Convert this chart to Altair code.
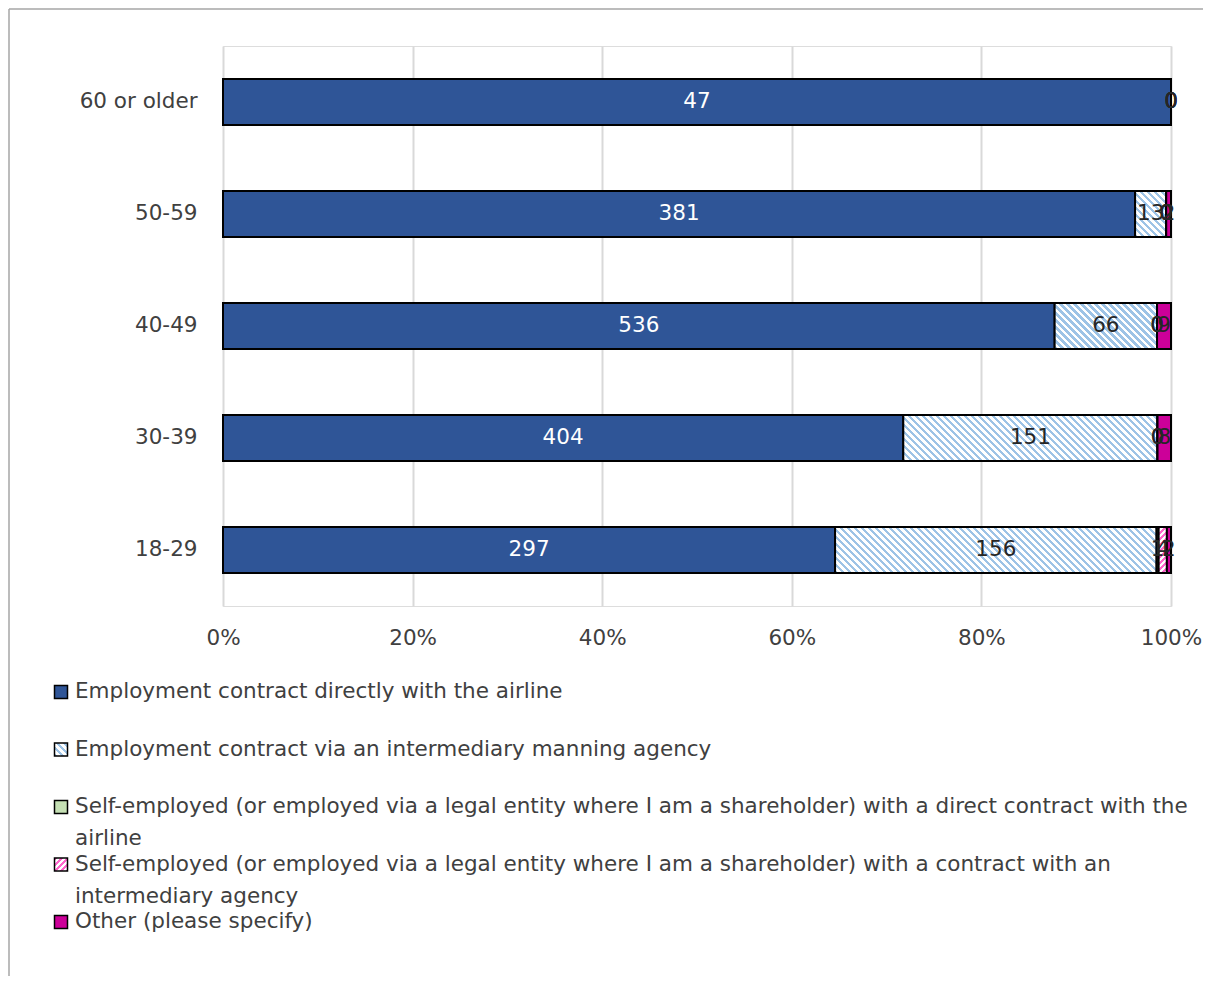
import math
import altair as alt

# ---------------- data ----------------
ages = ["60 or older", "50-59", "40-49", "30-39", "18-29"]
series = [
    "Employment contract directly with the airline",
    "Employment contract via an intermediary manning agency",
    "Self-employed (or employed via a legal entity where I am a shareholder) with a direct contract with the\nairline",
    "Self-employed (or employed via a legal entity where I am a shareholder) with a contract with an\nintermediary agency",
    "Other (please specify)",
]
direct = [47, 381, 536, 404, 297]
agency = [0, 13, 66, 151, 156]
self_direct = [0, 0, 0, 0, 1]
self_agency = [0, 0, 0, 0, 4]
other = [0, 2, 9, 8, 2]
values = [direct, agency, self_direct, self_agency, other]
x_ticks = [0, 0.2, 0.4, 0.6, 0.8, 1.0]

# ---------------- styles ----------------
FONT = "DejaVu Sans"
FS = 21.5
PLOT_W, PLOT_H = 948, 560
BAR_H = 46
DARK_BLUE = "#2F5597"
MAGENTA = "#CC0099"
LIGHT_BLUE = "#9DC3E6"
PINK = "#FF66CC"
TXT = "#404040"


def stripes(W, H, c1, c2, period=7.0, up=False):
    W = max(W, 0.5)
    L = W + H
    d = W * W + H * H
    x2 = L * W / d
    if up:
        x1, y1, y2 = 0, 0, L * H / d
    else:
        x1, y1, y2 = 0, 1, 1 - L * H / d
    stops = []
    n = int(math.ceil(L / period))
    for k in range(n):
        a = min(k * period / L, 1)
        b = min((k + 0.5) * period / L, 1)
        c = min((k + 1) * period / L, 1)
        stops += [{"offset": a, "color": c1}, {"offset": b, "color": c1},
                  {"offset": b, "color": c2}, {"offset": c, "color": c2}]
    return {"gradient": "linear", "x1": x1, "y1": y1, "x2": x2, "y2": y2, "stops": stops}


def fill_for(si, W, H):
    if si == 0:
        return DARK_BLUE
    if si == 1:
        return stripes(W, H, LIGHT_BLUE, "#FFFFFF")
    if si == 2:
        return "#C5E0B4"
    if si == 3:
        return stripes(W, H, PINK, "#FFFFFF", period=6.0, up=True)
    return MAGENTA


rows = []
for ai, age in enumerate(ages):
    total = sum(v[ai] for v in values)
    for si, s in enumerate(series):
        v = values[si][ai]
        W = v / total * PLOT_W
        rows.append({
            "age": age, "series": s, "idx": si, "value": v,
            "fill": fill_for(si, W, BAR_H),
            "tcolor": "#FFFFFF" if si == 0 else "#262626",
        })

legend_rows = []
for si, s in enumerate(series):
    parts = s.split("\n")
    legend_rows.append({
        "series": s, "idx": si,
        "line1": parts[0], "line2": parts[1] if len(parts) > 1 else "",
        "fill": fill_for(si, 13, 13),
    })

data = alt.Data(values=rows)
ldata = alt.Data(values=legend_rows)

stacked = alt.Chart(data).transform_stack(
    stack="value", groupby=["age"], sort=[alt.SortField("idx", order="ascending")],
    as_=["v0", "v1"], offset="normalize",
).transform_calculate(mid="(datum.v0 + datum.v1) / 2")

yscale = alt.Scale(paddingInner=0.59, paddingOuter=0.295)
yenc = alt.Y("age:N", sort=ages, title=None, scale=yscale,
             axis=alt.Axis(domain=False, ticks=False, labelPadding=26,
                           labelFontSize=FS, labelFont=FONT, labelColor=TXT))

bars = stacked.mark_bar(stroke="#000000", strokeWidth=2).encode(
    x=alt.X("v0:Q", scale=alt.Scale(domain=[0, 1]), title=None,
            axis=alt.Axis(values=x_ticks, format="%", domain=False, ticks=False,
                          grid=True, gridColor="#D9D9D9", gridWidth=2, labelFlush=False,
                          labelPadding=21, labelFontSize=FS, labelFont=FONT,
                          labelColor=TXT)),
    x2="v1:Q",
    y=yenc,
    fill=alt.Fill("fill:N", scale=None),
)

labels = stacked.mark_text(font=FONT, fontSize=FS, baseline="middle").encode(
    x="mid:Q",
    y=alt.Y("age:N", sort=ages, scale=yscale, axis=None),
    text="value:Q",
    color=alt.Color("tcolor:N", scale=None),
)

frame = alt.Data(values=[{"a": 1}])
border_top = alt.Chart(frame).mark_rule(stroke="#A6A6A6", strokeWidth=1.5).encode(
    x=alt.value(-214), x2=alt.value(980), y=alt.value(-37))
border_left = alt.Chart(frame).mark_rule(stroke="#A6A6A6", strokeWidth=1.5).encode(
    x=alt.value(-214), y=alt.value(-37), y2=alt.value(930))

ly = alt.Y("series:N", sort=series, axis=None,
           scale=alt.Scale(type="point", range=[646, 876], padding=0))

leg_sym = alt.Chart(ldata).mark_point(shape="square", size=169, filled=True,
                                      stroke="#000000", strokeWidth=1.5, opacity=1).encode(
    x=alt.value(-162), y=ly, fill=alt.Fill("fill:N", scale=None))

leg_t1 = alt.Chart(ldata).mark_text(font=FONT, fontSize=FS, align="left", baseline="middle",
                                    color=TXT).encode(
    x=alt.value(-148), y=ly, text="line1:N")

leg_t2 = alt.Chart(ldata).mark_text(font=FONT, fontSize=FS, align="left", baseline="middle",
                                    color=TXT, dy=32).encode(
    x=alt.value(-148), y=ly, text="line2:N")

chart = alt.layer(border_top, border_left, bars, labels, leg_sym, leg_t1, leg_t2).resolve_scale(
    y="independent"
).properties(
    width=PLOT_W, height=PLOT_H, padding=0,
).configure_view(stroke=None).configure(background="#FFFFFF")

chart.save("out.html", embed_options={"renderer": "svg", "actions": False})
